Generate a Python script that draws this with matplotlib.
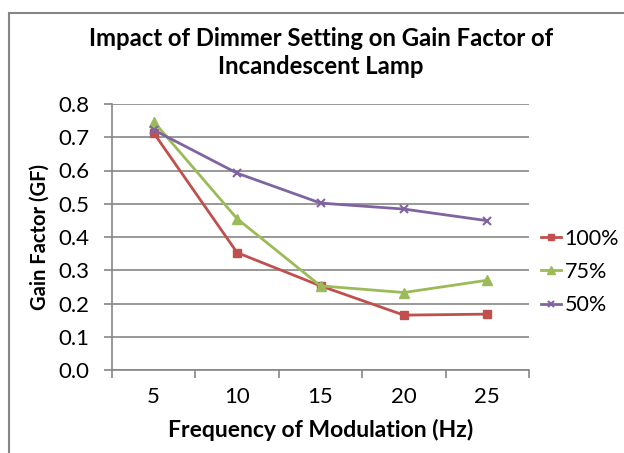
import matplotlib
matplotlib.use('Agg')
import matplotlib.pyplot as plt
from matplotlib.patches import Rectangle

freq = ['5', '10', '15', '20', '25']
gf_100 = [0.713, 0.353, 0.253, 0.165, 0.168]
gf_75 = [0.747, 0.455, 0.253, 0.233, 0.270]
gf_50 = [0.722, 0.592, 0.502, 0.484, 0.449]

plt.rcParams['font.family'] = ['Lato', 'DejaVu Sans']

W, H = 624, 453
fig = plt.figure(figsize=(W / 100, H / 100), dpi=100)
ax = fig.add_axes([112 / W, 1 - 370 / H, 417 / W, 266 / H])

x = list(range(len(freq)))
ax.plot(x, gf_100, color='#C0504D', lw=2, marker='s', ms=6, label='100%')
ax.plot(x, gf_75, color='#9BBB59', lw=2, marker='^', ms=7, label='75%')
ax.plot(x, gf_50, color='#8064A2', lw=2, marker='x', ms=6, mew=1.5, label='50%')

ax.set_xlim(-0.5, 4.5)
ax.set_ylim(0, 0.8)
ax.set_yticks([i / 10 for i in range(9)])
ax.set_yticklabels(['%.1f' % (i / 10) for i in range(9)], fontsize=16)
ax.set_xticks(x)
ax.set_xticklabels(freq, fontsize=16)
ax.set_xticks([i - 0.5 for i in range(6)], minor=True)
ax.tick_params(axis='x', which='major', length=0, pad=12)
ax.tick_params(axis='x', which='minor', length=6, color='#868686', width=1.2)
ax.tick_params(axis='y', length=6, color='#868686', width=1.2, pad=10)
ax.grid(axis='y', color='#868686', lw=1.2)
ax.set_axisbelow(True)
for s in ['top', 'right']:
    ax.spines[s].set_visible(False)
for s in ['left', 'bottom']:
    ax.spines[s].set_color('#868686')
    ax.spines[s].set_linewidth(1.2)

ax.set_xlabel('Frequency of Modulation (Hz)', fontsize=16.5, fontweight='bold')
ax.xaxis.set_label_coords(0.5, -0.183)
ax.set_ylabel('Gain Factor (GF)', fontsize=14.5, fontweight='bold')
ax.yaxis.set_label_coords(-0.149, 0.5)

fig.text(321 / W, 1 - 38 / H, 'Impact of Dimmer Setting on Gain Factor of',
         ha='center', va='center', fontsize=17.2, fontweight='bold')
fig.text(321 / W, 1 - 66 / H, 'Incandescent Lamp',
         ha='center', va='center', fontsize=17.2, fontweight='bold')

fig.legend(loc='center left', bbox_to_anchor=(541 / W, 1 - 272 / H), frameon=False,
           fontsize=15.5, handlelength=0.95, handletextpad=0.15, labelspacing=0.62,
           borderpad=0, borderaxespad=0, markerscale=0.8)

fig.patches.append(Rectangle((9 / W, -0.1), 1.1, 1 - 13 / H + 0.1,
                             transform=fig.transFigure, fill=False,
                             edgecolor='#868686', lw=1.5))

fig.savefig('out.png', dpi=100)
